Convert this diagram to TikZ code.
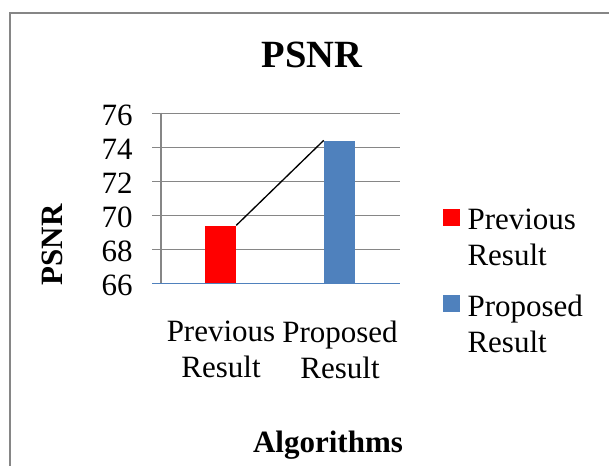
\documentclass[tikz,border=0pt]{standalone}
\usepackage{fontspec}
\setmainfont{Liberation Serif}
\usetikzlibrary{positioning}
\definecolor{chartgrid}{RGB}{134,134,134}
\definecolor{chartframe}{RGB}{134,134,134}
\definecolor{chartred}{RGB}{255,0,0}
\definecolor{chartblue}{RGB}{79,129,189}

\begin{document}
\begin{tikzpicture}[x=.75pt,y=-.75pt,line cap=butt,
  lbl/.style={font=\fontsize{23.25}{27}\selectfont,inner sep=0pt},
  axttl/.style={font=\fontsize{23.25}{27}\selectfont\bfseries,inner sep=0pt},
  ttl/.style={font=\fontsize{28.9}{34}\selectfont\bfseries,inner sep=0pt},
  bar/.style={minimum width=23.25pt,inner sep=0pt,anchor=south},
  key/.style={minimum size=12.75pt,inner sep=0pt}]
\useasboundingbox (0,0) rectangle (609,466);
% chart frame, open to the right and below
\draw[chartframe,line width=1.5pt] (10,470) -- (10,13) -- (615,13);
\node[ttl,anchor=base] (title) at (312,67.5) {PSNR};
% grid and value axis (17 units per PSNR step of 1)
\foreach \v [evaluate=\v as \gy using 283.7-17*(\v-66)] in {68,70,...,76}
 \draw[chartgrid,line width=1pt] (152,\gy) -- (400,\gy);
\foreach \v [evaluate=\v as \gy using 283.7-17*(\v-66)] in {66,68,...,76}
 \node[lbl,anchor=east] (tick\v) at (133,\gy+2) {\v};
\draw[chartgrid,line width=1pt] (161,112.7) -- (161,283.7);
% bars: 69.4 and 74.4
\node[bar,fill=chartred,minimum height=43.35pt] (prevbar) at (220.5,283.7) {};
\node[bar,fill=chartblue,minimum height=107.1pt] (propbar) at (339.5,283.7) {};
\draw[chartblue,line width=1pt] (152,283.7) -- (400,283.7);
\draw[black,line width=1pt] (prevbar.north east) -- (propbar.north west);
% category labels
\node[lbl,align=center,anchor=north] (catprev) at (221,320.5) {Previous\\Result};
\node[lbl,align=center,anchor=north] (catprop) at (340,320.5) {Proposed\\Result};
% axis titles
\node[axttl,rotate=90] (ytitle) at (52.5,245) {PSNR};
\node[axttl,anchor=base] (xtitle) at (328,452) {Algorithms};
% legend
\node[key,fill=chartred] (keyprev) at (451.5,217.5) {};
\node[key,fill=chartblue] (keyprop) at (451.5,303.5) {};
\node[lbl,align=left,right=5.25pt of keyprev.north east,anchor=north west] (txtprev) {Previous\\Result};
\node[lbl,align=left,right=5.25pt of keyprop.north east,anchor=north west] (txtprop) {Proposed\\Result};
\end{tikzpicture}
\end{document}
